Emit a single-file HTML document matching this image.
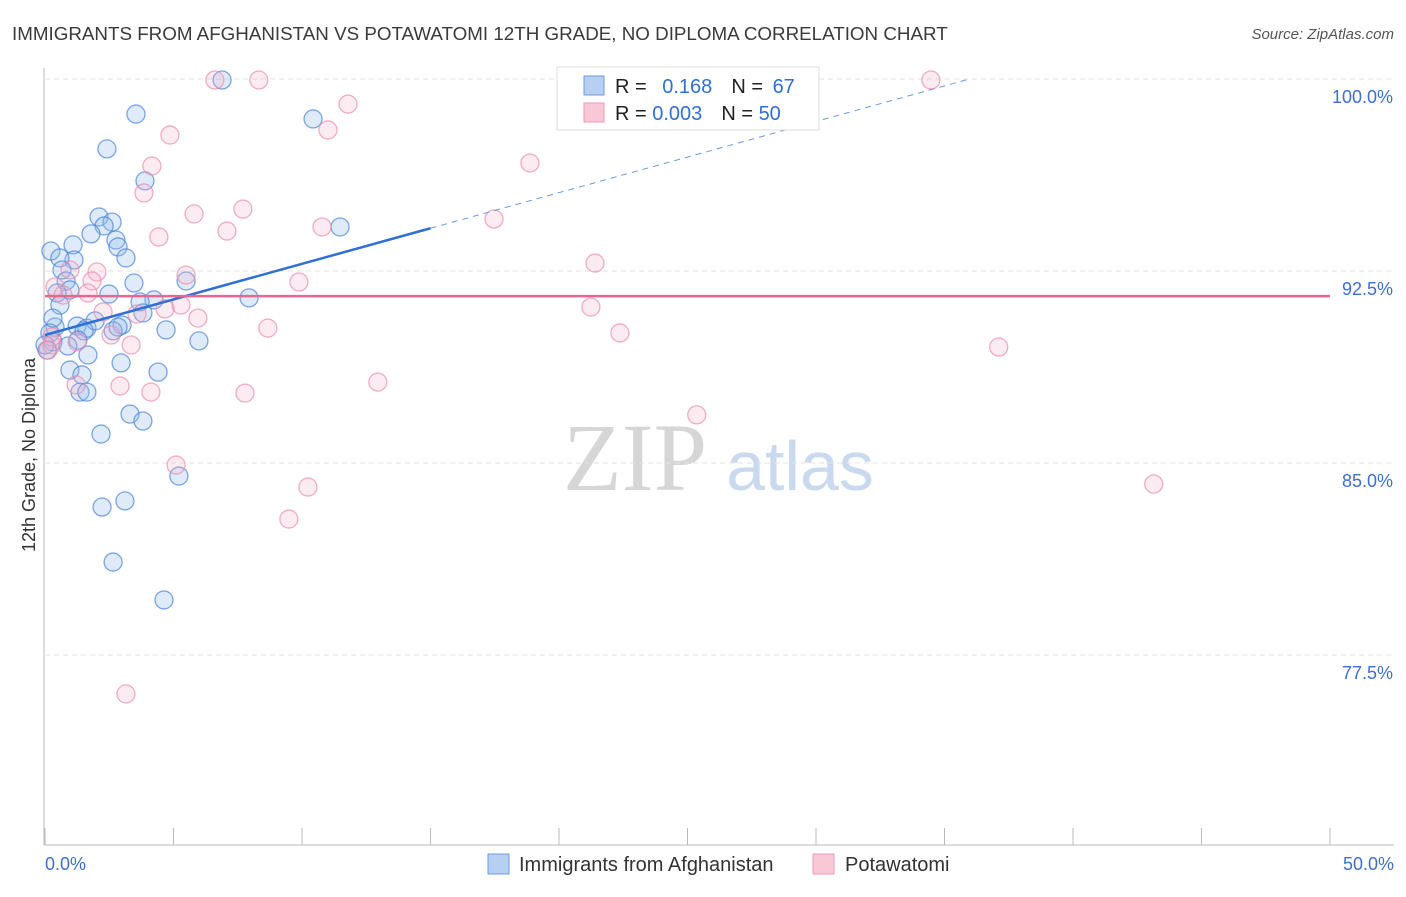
<!DOCTYPE html>
<html><head><meta charset="utf-8"><style>
body{margin:0;background:#fff;font-family:"Liberation Sans",sans-serif;}
svg text{font-family:"Liberation Sans",sans-serif;}
</style></head><body>
<svg id="chart" width="1406" height="892" xmlns="http://www.w3.org/2000/svg">
<text x="12" y="40" font-size="18.8" fill="#3a3a3a">IMMIGRANTS FROM AFGHANISTAN VS POTAWATOMI 12TH GRADE, NO DIPLOMA CORRELATION CHART</text>
<text x="1394" y="39" font-size="15" fill="#555" text-anchor="end" font-style="italic">Source: ZipAtlas.com</text>
<text x="35" y="455" font-size="18" fill="#333" text-anchor="middle" transform="rotate(-90 35 455)">12th Grade, No Diploma</text>
<g>
<text x="635" y="490" font-size="96" fill="#d6d6d6" font-family="Liberation Serif" text-anchor="middle" style="font-family:'Liberation Serif',serif">ZIP</text>
<text x="800" y="490" font-size="70" fill="#c9d9ef" text-anchor="middle">atlas</text>
</g>
<g id="grid"></g><g id="axes"></g><g id="pts"></g><g id="lines"></g>
<g>
<rect x="557" y="67" width="262" height="63" fill="#fff" stroke="#ddd"/>
<rect x="584" y="76" width="20" height="19" fill="#b7cff2" stroke="#6c9be0"/>
<rect x="584" y="103" width="20" height="19" fill="#f8c8d6" stroke="#ec9ab4"/>
<text x="615" y="93" font-size="20" fill="#222">R = <tspan fill="#2f6fd6" dx="10">0.168</tspan><tspan dx="19" fill="#222">N = </tspan><tspan fill="#2f6fd6" dx="4">67</tspan></text>
<text x="615" y="120" font-size="20" fill="#222">R = <tspan fill="#2f6fd6">0.003</tspan><tspan dx="19" fill="#222">N = </tspan><tspan fill="#2f6fd6">50</tspan></text>
</g>
<g>
<rect x="488" y="854" width="21" height="20" fill="#b7cff2" stroke="#6c9be0"/>
<text x="519" y="871" font-size="20" fill="#333">Immigrants from Afghanistan</text>
<rect x="813" y="854" width="21" height="20" fill="#f8c8d6" stroke="#ec9ab4"/>
<text x="845" y="871" font-size="20" fill="#333">Potawatomi</text>
</g>
<text x="45" y="870" font-size="18" fill="#3d6fcf">0.0%</text>
<text x="1394" y="870" font-size="18" fill="#3d6fcf" text-anchor="end">50.0%</text>
</svg>
<script>
const yTicks=[100,92.5,85,77.5];
const yTickLabels=["100.0%","92.5%","85.0%","77.5%"];
const xTicks=[0,5,10,15,20,25,30,35,40,45,50];
const blueX=[6.89,3.54,10.43,2.41,3.89,2.10,2.61,2.30,1.79,11.48,2.76,1.09,0.23,2.84,3.15,1.13,0.58,0.66,0.82,3.46,5.49,0.97,2.49,0.47,0.58,4.24,3.70,7.94,3.81,3.00,4.71,0.39,1.25,1.63,1.95,2.65,2.84,1.52,5.99,0.19,0.31,1.28,0.89,1.67,0.08,2.96,0.97,4.40,1.44,1.36,1.63,3.31,3.81,2.18,5.21,3.11,2.22,2.65,4.63,0.31,0.0];
const blueY=[99.96,98.63,98.44,97.27,96.02,94.61,94.41,94.26,93.95,94.22,93.71,93.52,93.28,93.44,93.01,92.93,93.01,92.54,92.11,92.03,92.11,91.76,91.60,91.64,91.17,91.37,91.29,91.45,90.86,90.39,90.20,90.31,90.35,90.27,90.55,90.16,90.31,90.16,89.77,90.08,89.73,89.80,89.57,89.22,89.41,88.91,88.63,88.55,88.44,87.77,87.77,86.91,86.64,86.13,84.49,83.52,83.28,81.13,79.65,90.66,89.61];
const pinkX=[6.61,8.32,34.47,11.79,4.86,11.01,4.16,18.87,3.85,5.80,7.70,17.47,4.43,7.08,10.78,21.40,2.02,0.97,5.49,1.83,9.88,0.39,1.67,0.70,5.29,4.67,21.24,5.95,2.26,3.58,8.67,22.37,2.57,3.35,1.25,37.11,0.27,12.95,2.92,4.12,7.78,1.21,25.36,5.10,10.23,43.14,9.49,3.15,0.27,0.12];
const pinkY=[99.96,99.96,99.96,99.02,97.81,98.01,96.60,96.72,95.55,94.73,94.92,94.53,93.83,94.06,94.22,92.81,92.46,92.54,92.34,92.11,92.07,91.88,91.64,91.56,91.17,91.02,91.09,90.66,90.90,90.82,90.27,90.08,90.00,89.61,89.73,89.53,89.61,88.16,88.01,87.77,87.73,88.05,86.88,84.92,84.06,84.18,82.81,75.98,89.92,89.41];
const blueTrend=[90.0,0.278];
const pinkTrend=[91.52,0];
const NS="http://www.w3.org/2000/svg";
const sx=v=>45+v*(1285/50);
const sy=v=>79+(100-v)*(192/7.5);
function mk(tag,attrs,parent){const e=document.createElementNS(NS,tag);for(const k in attrs)e.setAttribute(k,attrs[k]);parent.appendChild(e);return e;}
const grid=document.getElementById('grid'),axes=document.getElementById('axes'),pts=document.getElementById('pts'),lines=document.getElementById('lines');
yTicks.forEach((t,i)=>{
 const l=mk('line',{x1:45,x2:1394,y1:sy(t),y2:sy(t),stroke:'#e2e2e2','stroke-dasharray':'5,4'},grid);
 
 
 const tx=mk('text',{x:1393,y:sy(t)+24,'font-size':18,fill:'#3d6fcf','text-anchor':'end'},grid);
 tx.textContent=yTickLabels[i];
 
 
});
const ax=mk('line',{x1:44,x2:44,y1:68,y2:845,stroke:'#bbb'},axes);


const bx=mk('line',{x1:44,x2:1394,y1:845,y2:845,stroke:'#bbb'},axes);


xTicks.forEach(t=>{
 const l=mk('line',{x1:sx(t),x2:sx(t),y1:828,y2:845,stroke:'#bbb'},axes);
 
 
});
blueX.forEach((x,i)=>{
 const c=mk('circle',{cx:sx(x),cy:sy(blueY[i]),r:9,fill:'rgba(150,188,238,0.3)',stroke:'rgba(70,130,220,0.7)','stroke-width':1.3},pts);
 
 
});
pinkX.forEach((x,i)=>{
 const c=mk('circle',{cx:sx(x),cy:sy(pinkY[i]),r:9,fill:'rgba(245,175,198,0.25)',stroke:'rgba(235,140,170,0.7)','stroke-width':1.3},pts);
 
 
});
const bEnd=15, bDash=(100-blueTrend[0])/blueTrend[1];
const b1=mk('line',{x1:sx(0),y1:sy(blueTrend[0]),x2:sx(bEnd),y2:sy(blueTrend[0]+blueTrend[1]*bEnd),stroke:'#2f6fd6','stroke-width':2.5},lines);


const b2=mk('line',{x1:sx(bEnd),y1:sy(blueTrend[0]+blueTrend[1]*bEnd),x2:sx(bDash),y2:sy(100),stroke:'#6c9be0','stroke-width':1,'stroke-dasharray':'6,5'},lines);


const p1=mk('line',{x1:sx(0),y1:sy(pinkTrend[0]),x2:sx(50),y2:sy(pinkTrend[0]+pinkTrend[1]*50),stroke:'#e8668f','stroke-width':2.5},lines);


</script>
</body></html>
